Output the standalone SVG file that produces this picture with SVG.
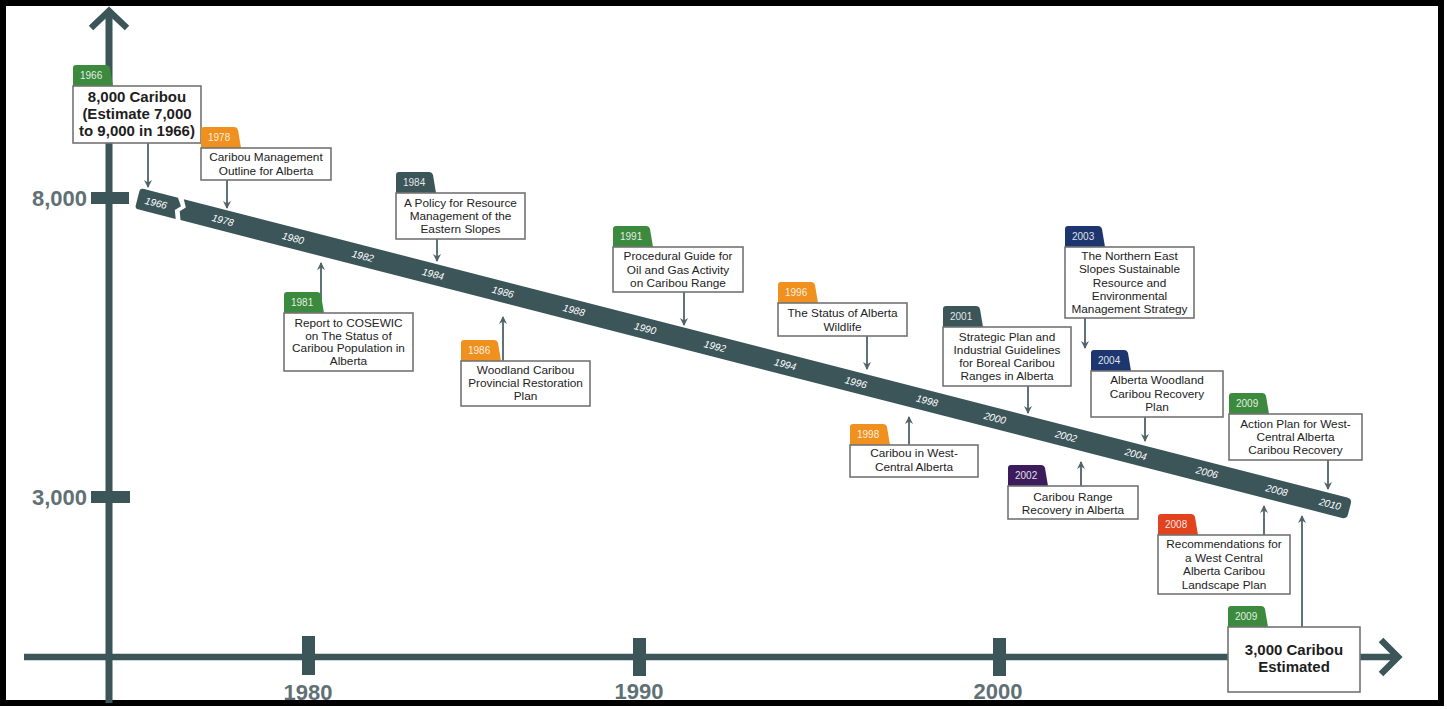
<svg xmlns="http://www.w3.org/2000/svg" width="1447" height="709" viewBox="0 0 1447 709">
<style>
.ax{stroke:#3b5559;fill:none}
.tick{fill:#3b5559}
.axl{font-family:"Liberation Sans",Arial,sans-serif;font-weight:bold;font-size:22px;fill:#5f7175}
.band{fill:#3b5559}
.yr{font-family:"Liberation Sans",Arial,sans-serif;font-style:italic;font-size:10px;fill:#ffffff;text-anchor:middle}
.con{stroke:#4f6368;stroke-width:1.8;fill:none;marker-end:url(#ah)}
.box{fill:#ffffff;stroke:#747474;stroke-width:1.6}
.tx{font-family:"Liberation Sans",Arial,sans-serif;font-size:11.8px;fill:#222;text-anchor:middle}
.bt{font-family:"Liberation Sans",Arial,sans-serif;font-size:15px;font-weight:bold;fill:#1e1e1e;text-anchor:middle}
.tt{font-family:"Liberation Sans",Arial,sans-serif;font-size:10px;fill:#ffffff;fill-opacity:0.88}
.green{fill:#3c8a3e}
.orange{fill:#f0901f}
.teal{fill:#3b5559}
.navy{fill:#1e3670}
.purple{fill:#3c1c5c}
.red{fill:#e2431f}
</style>
<defs>
<marker id="ah" viewBox="0 0 8 8" refX="7" refY="4" markerWidth="8" markerHeight="8" markerUnits="userSpaceOnUse" orient="auto">
<path d="M0,0 L8,4 L0,8 L2.5,4 Z" fill="#4f6368"/>
</marker>
<path id="tab" d="M0,21 L0,3 Q0,0 3,0 L33,0 Q36,0 37,3 L40,21 Z"/>
</defs>
<rect x="3" y="3" width="1438" height="700" fill="#ffffff" stroke="#000" stroke-width="6"/>
<g id="axes">
<line class="ax" x1="109" y1="12" x2="109" y2="703" stroke-width="7"/>
<polyline class="ax" points="91,28 109,11 127,28" stroke-width="6.5"/>
<line class="ax" x1="24" y1="657" x2="1398" y2="657" stroke-width="6.5"/>
<polyline class="ax" points="1381,640 1398,657 1381,674" stroke-width="6.5"/>
<rect class="tick" x="91" y="192" width="38" height="12"/>
<rect class="tick" x="91" y="491" width="39" height="12"/>
<rect class="tick" x="302" y="636" width="13" height="39"/>
<rect class="tick" x="633" y="638" width="13" height="38"/>
<rect class="tick" x="993" y="638" width="13" height="38"/>
<text class="axl" x="87" y="206" text-anchor="end" font-size="23">8,000</text>
<text class="axl" x="87" y="505" text-anchor="end" font-size="23">3,000</text>
<text class="axl" x="308" y="700" text-anchor="middle">1980</text>
<text class="axl" x="639" y="699" text-anchor="middle">1990</text>
<text class="axl" x="998" y="699" text-anchor="middle">2000</text>
</g>
<g id="band" transform="translate(156,203) rotate(14.38)">
<path class="band" d="M-16,-10.5 L20,-10.5 L25,-3 L20,2 L23,10.5 L-16,10.5 Q-19,10.5 -19,7.5 L-19,-7.5 Q-19,-10.5 -16,-10.5 Z"/>
<path class="band" d="M26,-10.5 L1227,-10.5 Q1232,-10.5 1232,-5.5 L1232,5.5 Q1232,10.5 1227,10.5 L28,10.5 L25,2 L30,-3 Z"/>
<text class="yr" x="0" y="3.5">1966</text>
<text class="yr" x="69" y="3.5">1978</text>
<text class="yr" x="141.5" y="3.5">1980</text>
<text class="yr" x="213.5" y="3.5">1982</text>
<text class="yr" x="286" y="3.5">1984</text>
<text class="yr" x="358" y="3.5">1986</text>
<text class="yr" x="431.5" y="3.5">1988</text>
<text class="yr" x="505" y="3.5">1990</text>
<text class="yr" x="577" y="3.5">1992</text>
<text class="yr" x="649.5" y="3.5">1994</text>
<text class="yr" x="722.5" y="3.5">1996</text>
<text class="yr" x="796" y="3.5">1998</text>
<text class="yr" x="866" y="3.5">2000</text>
<text class="yr" x="939.5" y="3.5">2002</text>
<text class="yr" x="1011.5" y="3.5">2004</text>
<text class="yr" x="1085" y="3.5">2006</text>
<text class="yr" x="1157" y="3.5">2008</text>
<text class="yr" x="1212" y="3.5">2010</text>
</g>
<g id="connectors">
<line class="con" x1="148" y1="143" x2="148" y2="187"/>
<line class="con" x1="227" y1="180" x2="227" y2="208"/>
<line class="con" x1="437" y1="239" x2="437" y2="261"/>
<line class="con" x1="321" y1="300" x2="321" y2="263"/>
<line class="con" x1="503" y1="361" x2="503" y2="317"/>
<line class="con" x1="684" y1="292" x2="684" y2="325"/>
<line class="con" x1="867" y1="336" x2="867" y2="369"/>
<line class="con" x1="1028" y1="386" x2="1028" y2="413"/>
<line class="con" x1="909" y1="445" x2="909" y2="417"/>
<line class="con" x1="1081" y1="486" x2="1081" y2="462"/>
<line class="con" x1="1085" y1="318" x2="1085" y2="348"/>
<line class="con" x1="1145" y1="417" x2="1145" y2="441"/>
<line class="con" x1="1328" y1="460" x2="1328" y2="489"/>
<line class="con" x1="1264" y1="535" x2="1264" y2="506"/>
<line class="con" x1="1302" y1="627" x2="1302" y2="516"/>
</g>
<g id="n1966">
<use href="#tab" x="73" y="65" class="green"/>
<text class="tt" x="80" y="79">1966</text>
<rect class="box" x="73" y="86" width="128" height="57"/>
<text class="bt" x="137" y="102">8,000 Caribou</text>
<text class="bt" x="137" y="119">(Estimate 7,000</text>
<text class="bt" x="137" y="136">to 9,000 in 1966)</text>
</g>
<g id="n1978">
<use href="#tab" x="201" y="127" class="orange"/>
<text class="tt" x="208" y="141">1978</text>
<rect class="box" x="201" y="148" width="130" height="32"/>
<text class="tx" x="266" y="161">Caribou Management</text>
<text class="tx" x="266" y="175">Outline for Alberta</text>
</g>
<g id="n1984">
<use href="#tab" x="396" y="172" class="teal"/>
<text class="tt" x="403" y="186">1984</text>
<rect class="box" x="396" y="193" width="129" height="46"/>
<text class="tx" x="460.5" y="207">A Policy for Resource</text>
<text class="tx" x="460.5" y="220">Management of the</text>
<text class="tx" x="460.5" y="233">Eastern Slopes</text>
</g>
<g id="n1981">
<use href="#tab" x="284" y="292" class="green"/>
<text class="tt" x="291" y="306">1981</text>
<rect class="box" x="284" y="313" width="129" height="58"/>
<text class="tx" x="348.5" y="327">Report to COSEWIC</text>
<text class="tx" x="348.5" y="339.5">on The Status of</text>
<text class="tx" x="348.5" y="352">Caribou Population in</text>
<text class="tx" x="348.5" y="365">Alberta</text>
</g>
<g id="n1986">
<use href="#tab" x="461" y="340" class="orange"/>
<text class="tt" x="468" y="354">1986</text>
<rect class="box" x="461" y="361" width="129" height="45"/>
<text class="tx" x="525.5" y="374">Woodland Caribou</text>
<text class="tx" x="525.5" y="387">Provincial Restoration</text>
<text class="tx" x="525.5" y="400">Plan</text>
</g>
<g id="n1991">
<use href="#tab" x="613" y="226" class="green"/>
<text class="tt" x="620" y="240">1991</text>
<rect class="box" x="613" y="247" width="130" height="45"/>
<text class="tx" x="678" y="260">Procedural Guide for</text>
<text class="tx" x="678" y="273.5">Oil and Gas Activity</text>
<text class="tx" x="678" y="287">on Caribou Range</text>
</g>
<g id="n1996">
<use href="#tab" x="778" y="282" class="orange"/>
<text class="tt" x="785" y="296">1996</text>
<rect class="box" x="778" y="303" width="129" height="33"/>
<text class="tx" x="842.5" y="317">The Status of Alberta</text>
<text class="tx" x="842.5" y="331">Wildlife</text>
</g>
<g id="n2001">
<use href="#tab" x="943" y="306" class="teal"/>
<text class="tt" x="950" y="320">2001</text>
<rect class="box" x="943" y="327" width="128" height="59"/>
<text class="tx" x="1007" y="341">Strategic Plan and</text>
<text class="tx" x="1007" y="354">Industrial Guidelines</text>
<text class="tx" x="1007" y="367">for Boreal Caribou</text>
<text class="tx" x="1007" y="380">Ranges in Alberta</text>
</g>
<g id="n1998">
<use href="#tab" x="850" y="424" class="orange"/>
<text class="tt" x="857" y="438">1998</text>
<rect class="box" x="850" y="445" width="128" height="32"/>
<text class="tx" x="914" y="457">Caribou in West-</text>
<text class="tx" x="914" y="471">Central Alberta</text>
</g>
<g id="n2002">
<use href="#tab" x="1008" y="465" class="purple"/>
<text class="tt" x="1015" y="479">2002</text>
<rect class="box" x="1008" y="486" width="130" height="33"/>
<text class="tx" x="1073" y="501">Caribou Range</text>
<text class="tx" x="1073" y="514">Recovery in Alberta</text>
</g>
<g id="n2003">
<use href="#tab" x="1065" y="226" class="navy"/>
<text class="tt" x="1072" y="240">2003</text>
<rect class="box" x="1065" y="247" width="129" height="71"/>
<text class="tx" x="1129.5" y="260">The Northern East</text>
<text class="tx" x="1129.5" y="273">Slopes Sustainable</text>
<text class="tx" x="1129.5" y="286.5">Resource and</text>
<text class="tx" x="1129.5" y="300">Environmental</text>
<text class="tx" x="1129.5" y="313">Management Strategy</text>
</g>
<g id="n2004">
<use href="#tab" x="1091" y="350" class="navy"/>
<text class="tt" x="1098" y="364">2004</text>
<rect class="box" x="1091" y="371" width="132" height="46"/>
<text class="tx" x="1157" y="384">Alberta Woodland</text>
<text class="tx" x="1157" y="397.5">Caribou Recovery</text>
<text class="tx" x="1157" y="411">Plan</text>
</g>
<g id="n2009a">
<use href="#tab" x="1229" y="393" class="green"/>
<text class="tt" x="1236" y="407">2009</text>
<rect class="box" x="1229" y="414" width="133" height="46"/>
<text class="tx" x="1295.5" y="428">Action Plan for West-</text>
<text class="tx" x="1295.5" y="441">Central Alberta</text>
<text class="tx" x="1295.5" y="454">Caribou Recovery</text>
</g>
<g id="n2008">
<use href="#tab" x="1158" y="514" class="red"/>
<text class="tt" x="1165" y="528">2008</text>
<rect class="box" x="1158" y="535" width="132" height="59"/>
<text class="tx" x="1224" y="548">Recommendations for</text>
<text class="tx" x="1224" y="561.5">a West Central</text>
<text class="tx" x="1224" y="575">Alberta Caribou</text>
<text class="tx" x="1224" y="588.5">Landscape Plan</text>
</g>
<g id="n2009b">
<use href="#tab" x="1228" y="606" class="green"/>
<text class="tt" x="1235" y="620">2009</text>
<rect class="box" x="1228" y="627" width="132" height="65"/>
<text class="bt" x="1294" y="655">3,000 Caribou</text>
<text class="bt" x="1294" y="672">Estimated</text>
</g>
</svg>
